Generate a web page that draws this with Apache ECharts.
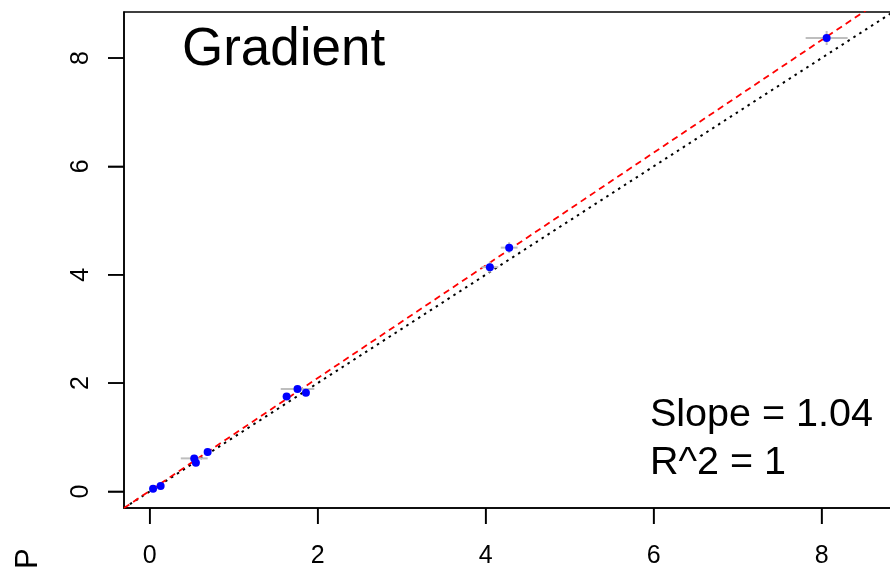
<!DOCTYPE html>
<html>
<head>
<meta charset="utf-8">
<script src="https://cdn.jsdelivr.net/npm/echarts@6/dist/echarts.min.js"></script>
<style>
  html, body { margin: 0; padding: 0; background: #fff; }
  #chart { width: 890px; height: 569px; }
</style>
</head>
<body>
<div id="chart"></div>
<script>
// observed (x) vs predicted (y), with error bars
const obsX = [0.04, 0.13, 0.53, 0.55, 0.69, 1.63, 1.76, 1.86, 4.05, 4.28, 8.06];
const obsY = [0.05, 0.10, 0.61, 0.53, 0.73, 1.75, 1.89, 1.82, 4.14, 4.50, 8.37];
const errX = [0.03, 0.03, 0.16, 0.03, 0.03, 0.03, 0.20, 0.03, 0.10, 0.10, 0.25];
const errY = [0.02, 0.02, 0.03, 0.02, 0.02, 0.02, 0.03, 0.02, 0.10, 0.10, 0.13];

const tickValues = [0, 2, 4, 6, 8];
const axisMin = -0.306;
const axisMax = 8.85;

const slope = 1.04;
const intercept = 0.012;
const r2 = 1;

const font = 'Liberation Sans, Arial, sans-serif';
const tickLen = 16;

const chart = echarts.init(document.getElementById('chart'));

const points = obsX.map((x, i) => [x, obsY[i], errX[i], errY[i]]);
const oneToOne = [[axisMin, axisMin], [axisMax, axisMax]];
const fitLine = [axisMin, axisMax].map((x) => [x, slope * x + intercept]);

function makeAxis(labelMargin, rotate) {
    return {
        type: 'value',
        min: axisMin,
        max: axisMax,
        interval: 2,
        axisLine: { show: true, onZero: false, lineStyle: { color: '#000', width: 1.5 } },
        axisTick: {
            show: true,
            inside: false,
            length: tickLen,
            lineStyle: { color: '#000', width: 1.5 },
            customValues: tickValues
        },
        axisLabel: {
            customValues: tickValues,
            fontSize: 25,
            color: '#000',
            fontFamily: font,
            rotate: rotate,
            margin: labelMargin
        },
        splitLine: { show: false }
    };
}

chart.setOption({
    animation: false,
    backgroundColor: '#fff',
    grid: {
        left: 124,
        top: 12,
        right: -3,
        bottom: 61,
        outerBoundsMode: 'none',
        show: true,
        borderColor: '#000',
        borderWidth: 1.5,
        backgroundColor: 'transparent'
    },
    xAxis: makeAxis(36, 0),
    yAxis: makeAxis(30, 90),
    series: [
        {
            type: 'line',
            data: oneToOne,
            symbol: 'none',
            z: 2,
            lineStyle: { color: '#000', width: 2, type: [2.5, 4.5] }
        },
        {
            type: 'line',
            data: fitLine,
            symbol: 'none',
            z: 3,
            lineStyle: { color: '#ff0000', width: 1.8, type: [6.5, 4.5] }
        },
        {
            // outside tick marks, placed through the axis scales
            type: 'custom',
            data: tickValues.map((v) => [v]),
            clip: false,
            silent: true,
            z: 1,
            renderItem: function (params, api) {
                const v = api.value(0);
                const px = api.coord([v, axisMin]);
                const py = api.coord([axisMin, v]);
                const style = { stroke: '#000', lineWidth: 1.5 };
                return {
                    type: 'group',
                    children: [
                        { type: 'line', shape: { x1: px[0], y1: px[1], x2: px[0], y2: px[1] + tickLen }, style: style },
                        { type: 'line', shape: { x1: py[0], y1: py[1], x2: py[0] - tickLen, y2: py[1] }, style: style }
                    ]
                };
            }
        },
        {
            // error bars
            type: 'custom',
            data: points,
            z: 4,
            renderItem: function (params, api) {
                const x = api.value(0), y = api.value(1);
                const ex = api.value(2), ey = api.value(3);
                const l = api.coord([x - ex, y]);
                const r = api.coord([x + ex, y]);
                const b = api.coord([x, y - ey]);
                const t = api.coord([x, y + ey]);
                const style = { stroke: '#bebebe', lineWidth: 2 };
                return {
                    type: 'group',
                    children: [
                        { type: 'line', shape: { x1: l[0], y1: l[1], x2: r[0], y2: r[1] }, style: style },
                        { type: 'line', shape: { x1: b[0], y1: b[1], x2: t[0], y2: t[1] }, style: style }
                    ]
                };
            }
        },
        {
            type: 'scatter',
            data: points.map((p) => [p[0], p[1]]),
            symbol: 'circle',
            symbolSize: 8,
            z: 5,
            itemStyle: { color: '#0000ff', opacity: 1 }
        }
    ],
    graphic: [
        {
            type: 'text',
            left: 182,
            top: 24,
            style: { text: 'Gradient', fontSize: 53, fill: '#000', fontFamily: font }
        },
        {
            type: 'text',
            left: 650,
            top: 391,
            style: {
                text: 'Slope = ' + slope.toFixed(2) + '\nR^2 = ' + r2,
                fontSize: 39.5,
                lineHeight: 48,
                fill: '#000',
                fontFamily: font
            }
        },
        {
            type: 'text',
            x: 13,
            y: 569,
            rotation: Math.PI / 2,
            style: { text: 'P', fontSize: 31, fill: '#000', fontFamily: font, textVerticalAlign: 'top' }
        }
    ]
});
</script>
</body>
</html>
